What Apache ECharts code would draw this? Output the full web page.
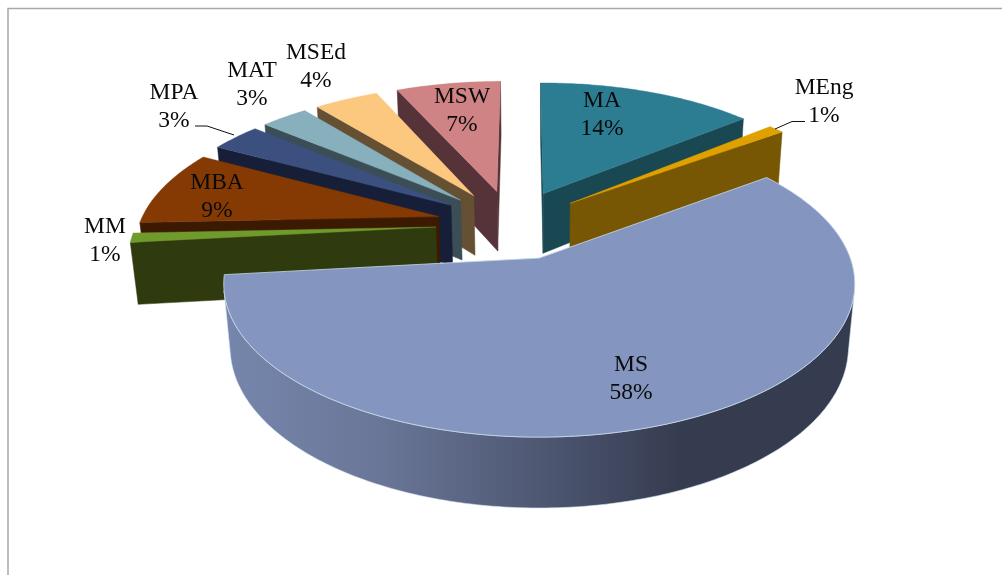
<!DOCTYPE html>
<html>
<head>
<meta charset="utf-8">
<style>html,body{margin:0;padding:0;background:#fff}#chart{width:1002px;height:575px}</style>
<script src="https://cdn.jsdelivr.net/npm/echarts@6/dist/echarts.min.js"></script>
</head>
<body>
<div id="chart"></div>
<script>
// ---- data (clockwise from 12 o'clock) ----
const categories = ['MA','MEng','MS','MM','MBA','MPA','MAT','MSEd','MSW'];
const percents   = [14, 1, 58.4, 1.05, 8.55, 3.2, 3, 4.1, 6.7];

// ---- styles and layout ----
const topColors  = ['#2d7d92','#e0a000','#8496c0','#6f9a2c','#843a02','#3c5080','#87afbc','#fcc77e','#cf8385'];
const wallColors = ['#1a4852','#775703','#363c50','#2f3a0f','#3c1a02','#171e38','#3b4d55','#655033','#553338'];
const labelCentres = [[602,115],[824,102],[631,379],[105,241],[217,197],[174,107],[252,85],[316,66.5],[462,111]];
const leaders = [
  [[805,121.5],[792,121.5],[775,129]],
  [[195,126],[207,126],[234,135]]
];
// perspective model of the pie (unit-disc plane -> screen)
const V = {x0:539.5,y0:258,A:148.9,B:0.168,C:311,H:64,G:0.02,Sx:0,ox:-0.093,oy:-0.235,explode:0.253,startDeg:-0.5};

const TAU = Math.PI*2;
const total = percents.reduce((a,b)=>a+b,0);
const start = V.startDeg/360*TAU;
let acc = 0;
const slices = percents.map((p,i)=>{
  const t0 = start+acc/total*TAU; acc += p; const t1 = start+acc/total*TAU; const m=(t0+t1)/2;
  return {i,t0,t1,m,cx:V.ox+V.explode*Math.sin(m),cy:V.oy-V.explode*Math.cos(m)};
});
const drawOrder = slices.slice().sort((a,b)=>a.cy-b.cy).map(s=>s.i);

function project(u,v,h){
  const w = 1 - V.B*v + V.G*h;
  return [V.x0 + (V.C*u + V.Sx*h)/w, V.y0 + (V.A*v + V.H*h)/w];
}
function rimPoint(s,t,h){ return project(s.cx+Math.sin(t), s.cy-Math.cos(t), h); }
function apex(s,h){ return project(s.cx, s.cy, h); }
function area(pts){ let a=0; for(let k=0;k<pts.length;k++){const p=pts[k],q=pts[(k+1)%pts.length]; a+=p[0]*q[1]-q[0]*p[1];} return a/2; }
const poly=(pts,fill,stroke,lw)=>({type:'polygon',shape:{points:pts},style:{fill:fill,stroke:stroke||fill,lineWidth:lw==null?0.5:lw}});

function buildSlice(s){
  const kids=[], i=s.i, wall=wallColors[i];
  const N=Math.max(8,Math.round((s.t1-s.t0)/0.015));
  let run=[];
  const flush=()=>{
    if(run.length<2){run=[];return;}
    const topEdge=run.map(t=>rimPoint(s,t,0)), botEdge=run.slice().reverse().map(t=>rimPoint(s,t,1));
    const fill = categories[i]==='MS'
      ? new echarts.graphic.LinearGradient(0,0,1,0,[
          {offset:0,color:'#7686ac'},{offset:0.25,color:'#6a7697'},{offset:0.5,color:'#4e5873'},
          {offset:0.72,color:'#363c50'},{offset:1,color:'#363c50'}])
      : wall;
    kids.push(poly(topEdge.concat(botEdge),fill,categories[i]==='MS'?'#d5e8f0':wall,categories[i]==='MS'?0.6:0.5));
    run=[];
  };
  for(let k=0;k<N;k++){
    const a=s.t0+(s.t1-s.t0)*k/N,b=s.t0+(s.t1-s.t0)*(k+1)/N;
    const q=[rimPoint(s,a,0),rimPoint(s,b,0),rimPoint(s,b,1),rimPoint(s,a,1)];
    if(area(q)<0){ if(!run.length)run.push(a); run.push(b);} else flush();
  }
  flush();
  const w0=[apex(s,0),rimPoint(s,s.t0,0),rimPoint(s,s.t0,1),apex(s,1)];
  const w1=[rimPoint(s,s.t1,0),apex(s,0),apex(s,1),rimPoint(s,s.t1,1)];
  if(area(w0)<0)kids.push(poly(w0,wall));
  if(area(w1)<0)kids.push(poly(w1,wall));
  const top=[apex(s,0)];
  for(let k=0;k<=N;k++)top.push(rimPoint(s,s.t0+(s.t1-s.t0)*k/N,0));
  kids.push(categories[i]==='MS'?poly(top,topColors[i],'#c4dbe8',0.8):poly(top,topColors[i],topColors[i],0.4));
  return kids;
}

const chart = echarts.init(document.getElementById('chart'),null,{renderer:'canvas'});
chart.setOption({
  animation:false,
  backgroundColor:'#ffffff',
  graphic:{elements:[{type:'polyline',silent:true,z:0,shape:{points:[[8,575],[8,8.5],[1002,8.5]]},style:{stroke:'#a8a8a8',lineWidth:1.5,fill:null}}]},
  series:[
    {type:'custom',coordinateSystem:'none',z:2,animation:false,silent:true,
     data:drawOrder.map(i=>[i,percents[i]]),
     renderItem:(p,api)=>({type:'group',children:buildSlice(slices[api.value(0)])})},
    {type:'custom',coordinateSystem:'none',z:3,animation:false,silent:true,
     data:categories.map((c,i)=>[i,percents[i]]),
     renderItem:(p,api)=>{
       const i=api.value(0);
       return {type:'text',x:labelCentres[i][0],y:labelCentres[i][1],
         style:{text:categories[i]+'\n'+Math.round(api.value(1))+'%',fill:'#0a0a0a',align:'center',verticalAlign:'middle',
                font:'23.5px "Liberation Serif"',lineHeight:28}};
     }},
    {type:'custom',coordinateSystem:'none',z:3,animation:false,silent:true,
     data:leaders.map((l,i)=>[i]),
     renderItem:(p,api)=>({type:'polyline',shape:{points:leaders[api.value(0)]},style:{stroke:'#111',lineWidth:1,fill:null}})}
  ]
});
</script>
</body>
</html>
